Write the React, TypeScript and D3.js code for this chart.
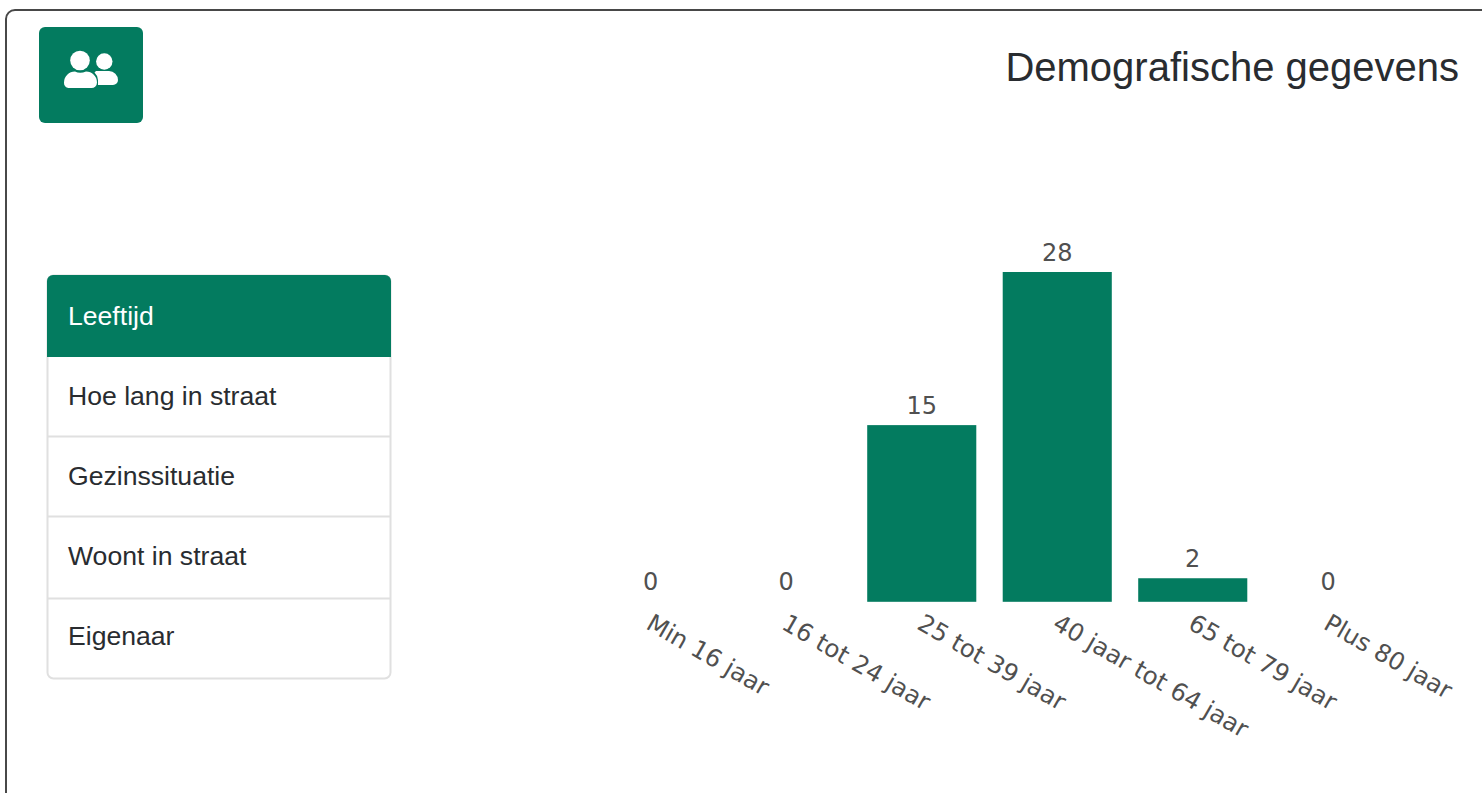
import React from "react";
import * as d3 from "d3";

const categories = ["Min 16 jaar", "16 tot 24 jaar", "25 tot 39 jaar", "40 jaar tot 64 jaar", "65 tot 79 jaar", "Plus 80 jaar"];
const values = [0, 0, 15, 28, 2, 0];
const menuItems = ["Leeftijd", "Hoe lang in straat", "Gezinssituatie", "Woont in straat", "Eigenaar"];
const title = "Demografische gegevens";

const GREEN = "#037b5f";
const SANS = "'Liberation Sans', Arial, sans-serif";
const DEJA = "'DejaVu Sans', sans-serif";

const x = d3.scaleBand<string>().domain(categories).range([583, 1396]).paddingInner(0.195).paddingOuter(0.0975);
const y = d3.scaleLinear().domain([0, 28]).range([601.8, 272]);

const rowTops = [275, 357, 437, 517, 599];
const rowBaselines = [325, 405, 485, 565, 645];

export default function App() {
  return (
    <svg width={1482} height={793} viewBox="0 0 1482 793" style={{ position: "absolute", left: 0, top: 0, display: "block", background: "#fff" }}>
      <rect x={6} y={10} width={1600} height={1000} rx={9} fill="#fff" stroke="#484848" strokeWidth={2} />

      <rect x={39} y={27} width={104} height={96} rx={6} fill={GREEN} />
      <g fill="#fff">
        <circle cx={80} cy={60.5} r={9.8} />
        <circle cx={104.3} cy={61.5} r={8.2} />
        <path d="M96 71 h13 a9 9 0 0 1 9 9 a5 5 0 0 1 -5 5 h-15 v-5 a11 11 0 0 0 -3.5 -7.5z" />
        <path d="M75 71.5 q5 2.5 11 0 a11 11 0 0 1 11 11 a5.5 5.5 0 0 1 -5.5 5.5 h-23 a5 5 0 0 1 -4.500 -5.5 a11 11 0 0 1 11 -11z" />
      </g>

      <text x={1459} y={81} textAnchor="end" fontFamily={SANS} fontSize={40} fill="#292c30">{title}</text>

      <rect x={47.5} y={275.5} width={343} height={403} rx={6} fill="#fff" stroke="#e0e0e0" strokeWidth={2} />
      <path d="M47 357 V281 a6 6 0 0 1 6 -6 H385 a6 6 0 0 1 6 6 V357 Z" fill={GREEN} />
      {rowTops.slice(2).map((t) => (
        <line key={t} x1={48} x2={390} y1={t - 0.5} y2={t - 0.5} stroke="#e0e0e0" strokeWidth={2} />
      ))}
      {menuItems.map((m, i) => (
        <text key={m} x={68} y={rowBaselines[i]} fontFamily={SANS} fontSize={26.6} fill={i === 0 ? "#fff" : "#292c30"}>{m}</text>
      ))}

      {categories.map((c, i) => (
        <g key={c}>
          {values[i] > 0 && (
            <rect x={x(c)} y={y(values[i])} width={x.bandwidth()} height={y(0) - y(values[i])} fill={GREEN} />
          )}
          <text x={x(c)! + x.bandwidth() / 2} y={y(values[i]) - 11.5} textAnchor="middle" fontFamily={DEJA} fontSize={24} fill="#505050">{values[i]}</text>
          <text transform={`translate(${x(c)! + x.bandwidth() / 2 - 6},${628}) rotate(30)`} fontFamily={DEJA} fontSize={24.4} fill="#505050">{c}</text>
        </g>
      ))}
    </svg>
  );
}
